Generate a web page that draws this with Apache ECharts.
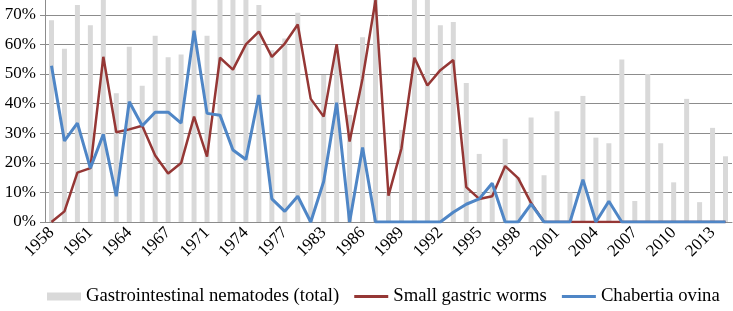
<!DOCTYPE html>
<html>
<head>
<meta charset="utf-8">
<script src="https://cdn.jsdelivr.net/npm/echarts@6/dist/echarts.min.js"></script>
<style>
  html, body { margin: 0; padding: 0; background: #fff; }
  #chart { width: 733px; height: 311px; }
</style>
</head>
<body>
<div id="chart"></div>
<script>
// years sampled (a few years are missing from the record)
var years = [
  '1958', '1959', '1960', '1961', '1962', '1963', '1964', '1965', '1966', '1967',
  '1969', '1970', '1971', '1972', '1973', '1974', '1975', '1976', '1977', '1979',
  '1981', '1983', '1984', '1985', '1986', '1987', '1988', '1989', '1990', '1991',
  '1992', '1993', '1994', '1995', '1996', '1997', '1998', '1999', '2000', '2001',
  '2002', '2003', '2004', '2005', '2006', '2007', '2008', '2009', '2010', '2011',
  '2012', '2013', '2014'
]

// % positive (bars above 75% are cut by the frame)
var nematodesTotal = [
  68.2, 58.5, 73.3, 66.5, 76, 43.5, 59.2, 46.0, 62.9, 55.7,
  56.6, 76, 62.9, 76, 76, 76, 73.3, 58, 62, 70.7,
  41, 49.7, 58, 36.2, 62.4, 76, 10, 31.1, 76, 76,
  66.5, 67.6, 47.0, 23.0, 12, 28.1, 15, 35.3, 15.8, 37.4,
  10.0, 42.6, 28.5, 26.6, 54.9, 7.1, 50.0, 26.6, 13.4, 41.6,
  6.7, 31.8, 22.2
]

var smallGastricWorms = [
  0, 3.6, 16.7, 18.2, 55.8, 30.3, 31.3, 32.5, 22.5, 16.4,
  19.9, 35.6, 22.1, 55.5, 51.5, 60, 64.3, 55.8, 60.3, 66.7,
  41.6, 35.6, 60.1, 27.2, 48.5, 75, 8.9, 24.9, 55.5, 46.1,
  51.3, 54.7, 11.8, 7.8, 8.7, 18.9, 14.8, 6.4, 0, 0,
  0, 0, 0, 0, 0, 0, 0, 0, 0, 0,
  0, 0, 0
]

var chabertiaOvina = [
  52.8, 27.4, 33.4, 18.2, 29.6, 8.7, 40.6, 32.5, 37.1, 37.1,
  33.4, 64.6, 36.7, 36.1, 24.3, 21.1, 42.9, 7.8, 3.6, 8.7,
  0, 13.7, 40.3, 0, 25.2, 0, 0, 0, 0, 0,
  0, 3.3, 6.0, 7.8, 13.1, 0, 0, 6.0, 0, 0,
  0, 14.3, 0, 7.0, 0, 0, 0, 0, 0, 0,
  0, 0, 0
]

var yTicks = { min: 0, max: 75, step: 10 }

var font = '"Liberation Serif", "Times New Roman", serif'
var gridGray = '#8c8c8c'

var chart = echarts.init(document.getElementById('chart'), null, { renderer: 'canvas' })

chart.setOption({
  animation: false,
  grid: {
    left: 45,
    right: 1,
    top: 0,
    bottom: 89
  },
  legend: {
    bottom: 0,
    left: 42,
    itemGap: 15,
    itemWidth: 34,
    itemHeight: 8,
    textStyle: { fontFamily: font, fontSize: 18.7, color: '#000' },
    data: [
      { name: 'Gastrointestinal nematodes (total)', icon: 'rect' },
      { name: 'Small gastric worms', icon: 'path://M0,0H34V3H0Z' },
      { name: 'Chabertia ovina', icon: 'path://M0,0H34V3H0Z' }
    ]
  },
  xAxis: {
    type: 'category',
    data: years,
    boundaryGap: true,
    axisLine: { lineStyle: { color: gridGray, width: 1 } },
    axisTick: { interval: 0, length: 5, lineStyle: { color: gridGray } },
    axisLabel: {
      interval: 2,
      rotate: 45,
      margin: 8,
      fontFamily: font,
      fontSize: 17,
      color: '#000'
    }
  },
  yAxis: {
    type: 'value',
    min: yTicks.min,
    max: yTicks.max,
    interval: yTicks.step,
    axisLine: { show: true, lineStyle: { color: gridGray } },
    axisTick: { show: true, length: 5, lineStyle: { color: gridGray } },
    splitLine: { showMaxLine: false, lineStyle: { color: gridGray, width: 1 } },
    axisLabel: {
      showMaxLabel: false,
      margin: 9,
      fontFamily: font,
      fontSize: 17,
      color: '#000',
      formatter: '{value}%'
    }
  },
  series: [{
    name: 'Gastrointestinal nematodes (total)',
    type: 'bar',
    data: nematodesTotal,
    barWidth: 5,
    clip: true,
    itemStyle: { color: '#d9d9d9' }
  },
  {
    name: 'Small gastric worms',
    type: 'line',
    data: smallGastricWorms,
    showSymbol: false,
    symbol: 'none',
    clip: true,
    itemStyle: { color: '#953735' },
    lineStyle: { color: '#953735', width: 2.5 }
  },
  {
    name: 'Chabertia ovina',
    type: 'line',
    data: chabertiaOvina,
    showSymbol: false,
    symbol: 'none',
    clip: true,
    itemStyle: { color: '#4f86c6' },
    lineStyle: { color: '#4f86c6', width: 3 }
  }]
})
</script>
</body>
</html>
